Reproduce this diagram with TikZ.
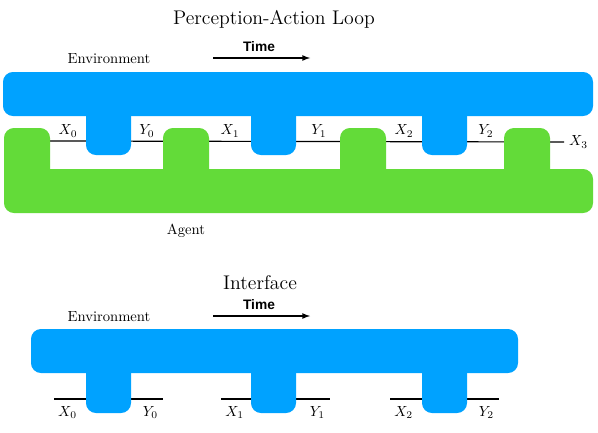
\documentclass[tikz,border=0pt]{standalone}
\usepackage{fontspec}
\newfontfamily\timefont{Liberation Sans}
\usepackage{amsmath}
\usetikzlibrary{arrows}
\definecolor{envblue}{RGB}{0,162,255}
\definecolor{agentgreen}{RGB}{99,219,57}
\tikzset{envpart/.style={fill=envblue, draw=none, rounded corners=6.8pt},
agentpart/.style={fill=agentgreen, draw=none, rounded corners=6.8pt},
wire/.style={black, line width=0.8pt},
titlelabel/.style={rectangle, draw=none, font=\fontsize{13.5}{16}\selectfont},
timelabel/.style={rectangle, draw=none, font=\timefont\bfseries\fontsize{9.4}{11}\selectfont},
every label/.style={rectangle, draw=none}}

\begin{document}
\begin{tikzpicture}[x=0.024cm, y=-0.024cm]
\useasboundingbox (0,0) rectangle (598,432);

%%% PERCEPTION-ACTION LOOP
\node[titlelabel] (looptitle) at (274,19) {Perception-Action Loop};
\node[timelabel] (looptime) at (259,47) {Time};
\coordinate (looptimestart) at (213,58);
\coordinate (looptimeend) at (310,58);
\draw[wire, -latex] (looptimestart) -- (looptimeend);
\node (loopenv) at (109,59) {Environment};
\node (loopagent) at (186,231) {Agent};

%% wire under the blocks
\coordinate (loopwire) at (50,141);
\node[anchor=west] (loopX3) at (564,142) {$X_3$};
\draw[wire] (loopwire) -- (loopX3.west);

%% environment
\fill[envpart] (3,72) rectangle (593,116);
\foreach \x in {86,251,422} {
    \fill[envpart] (\x,100) rectangle ++(45,55);
}

%% agent
\fill[agentpart] (4,169) rectangle (593,213);
\fill[agentpart] (4,128) rectangle (50,200);
\foreach \x in {163,340,504} {
    \fill[agentpart] (\x,128) rectangle ++(46,57);
}

\foreach \x/\t [count=\i] in {68/X_0, 147/Y_0, 230/X_1, 319/Y_1, 404/X_2, 486/Y_2} {
    \node (looplbl\i) at (\x,131) {$\t$};
}

%%% INTERFACE
\node[titlelabel] (ifacetitle) at (260,283) {Interface};
\node[timelabel] (ifacetime) at (259,305) {Time};
\coordinate (ifacetimestart) at (213,316);
\coordinate (ifacetimeend) at (310,316);
\draw[wire, -latex] (ifacetimestart) -- (ifacetimeend);
\node (ifaceenv) at (109,317) {Environment};

\foreach \a/\b [count=\i from 0] in {54/163, 221/330, 390/499} {
    \coordinate (ifacewl\i) at (\a,399);
    \coordinate (ifacewr\i) at (\b,399);
    \draw[wire] (ifacewl\i) -- (ifacewr\i);
    \node[anchor=north west, inner sep=0pt, xshift=2.7pt, yshift=-4.6pt] (ifaceX\i) at (ifacewl\i) {$X_\i$};
    \node[anchor=north east, inner sep=0pt, xshift=-3.2pt, yshift=-4.6pt] (ifaceY\i) at (ifacewr\i) {$Y_\i$};
}

\fill[envpart] (31,329) rectangle (518,373);
\foreach \x in {86,251,422} {
    \fill[envpart] (\x,355) rectangle ++(45,58);
}

\end{tikzpicture}
\end{document}
